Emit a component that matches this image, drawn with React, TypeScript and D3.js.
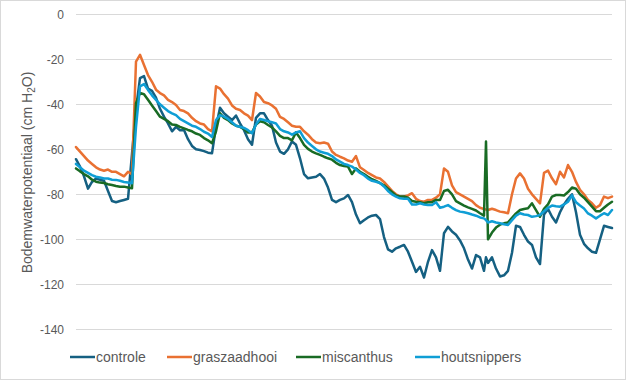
import React from 'react';
import * as d3 from 'd3';

// time axis (days); one extra sample at 102.5 captures the short miscanthus spike
const days: number[] = [...d3.range(0, 103), 102.5, ...d3.range(103, 135)];

const seriesNames = ['controle', 'graszaadhooi', 'miscanthus', 'houtsnippers'];
const seriesColors = ['#156082', '#E97132', '#196B24', '#0F9ED5'];
const yTicks = [0, -20, -40, -60, -80, -100, -120, -140];

const controle = [
  -64.4, -67.7, -72, -77.5, -74.5, -73, -73.5, -74, -78.5, -83,
  -83.5, -83, -82.5, -82, -62, -42, -28.4, -27.5, -33, -34,
  -37, -42, -45.5, -48.5, -52, -50, -51.5, -51.4, -55.5, -58.5,
  -60, -60.3, -60.8, -61.5, -61.8, -50, -41.5, -44, -45.5, -47,
  -45, -48.5, -51.5, -55.5, -58, -46, -44, -44, -47, -49.5,
  -57, -61, -62, -60, -56.5, -58, -64, -71, -72.9, -72.5,
  -72.2, -71, -73, -77, -82.5, -83.5, -82.5, -81.8, -80.3, -83.5,
  -89, -92.9, -91.5, -90.3, -89.5, -89.2, -91, -99, -104.5, -105.5,
  -104, -103.3, -102.5, -105.5, -110, -114.5, -112.2, -117, -110, -104.8,
  -108, -114, -97.3, -94.5, -96.5, -98, -100.5, -104, -109, -113,
  -107, -108, -114, -108, -110.5, -108, -113, -116.5, -116, -114,
  -106, -94, -94.5, -98, -101, -102.5, -108, -111, -89, -86.5,
  -90, -92.5, -88, -84.5, -82, -80, -88, -98, -102, -104,
  -105.5, -106, -100, -94, -94.5, -95,
];

const graszaadhooi = [
  -59, -61, -63, -65, -66.5, -68, -69, -69.5, -69, -70,
  -70, -71, -72, -70, -71, -21, -18, -22.5, -27, -30,
  -33.5, -35, -36, -38, -39, -40.3, -42.5, -43, -44, -46,
  -47.5, -48.5, -49, -51, -52, -32, -33, -35.5, -37.5, -40.5,
  -42, -42.5, -44, -45, -47, -35, -36.5, -39, -39.5, -40.5,
  -42, -45.6, -46.5, -48, -49.5, -50, -50, -52, -53.5, -55.5,
  -57, -57.3, -57, -57.5, -61, -62.5, -63.3, -64, -65, -65.5,
  -63, -68, -69.2, -70.5, -71.5, -72.5, -73, -74.5, -76.5, -78.5,
  -80, -81, -81, -80.5, -79.5, -82, -83, -83.3, -82.5, -82.5,
  -81.5, -80, -68.5, -70, -76, -79, -80, -81, -82, -83,
  -84.8, -86, -86.5, -86.8, -87, -86.4, -87, -87.7, -88, -88.4,
  -80, -73, -70.7, -73, -77.5, -80, -82, -84, -70.5, -69.5,
  -72.9, -75.5, -70, -72.5, -67, -70, -74.5, -78, -80, -82.5,
  -84, -86, -84.8, -81, -81.7, -81,
];

const miscanthus = [
  -68.5, -69.8, -71, -72, -73.5, -74.4, -74.8, -75, -75.5, -75.9,
  -76.3, -76.6, -76.6, -77, -77.3, -39.5, -35, -35.5, -38, -40.5,
  -43, -45.5, -46.5, -47.5, -49, -49.2, -50, -50.7, -51.4, -52,
  -53, -53.6, -55, -56, -57.3, -52, -44, -46, -47, -48.5,
  -49.5, -50, -51, -52.5, -52.5, -49, -47.5, -48, -49.2, -50.3,
  -52, -54, -55, -55, -56, -52.5, -55, -58, -59.8, -61,
  -61.8, -62.5, -63.3, -64, -64.6, -66, -67, -67.4, -67.7, -71,
  -68.5, -70, -71, -72.2, -73.3, -74, -75, -76, -77.5, -79,
  -80.5, -81, -81, -81.5, -83, -83.3, -83.5, -84, -83.5, -83.5,
  -82.5, -82.5, -78.5, -78, -80, -83, -84, -85, -85.8, -86.5,
  -87.2, -88.4, -89.5, -56.5, -100, -97, -94.8, -93.5, -92.9, -92.5,
  -90.5, -88.5, -87, -86.5, -86.2, -84, -87, -90, -86.5, -84.5,
  -81, -80.3, -80.3, -80.5, -79, -77, -77.5, -80, -81.5, -83.5,
  -85.5, -87.5, -87.5, -86, -84.5, -83.3,
];

const houtsnippers = [
  -66.5, -68, -69.5, -70.5, -71.5, -72.2, -72.5, -73, -73, -73.5,
  -73.6, -74, -74.5, -74.8, -75.1, -50, -32, -31, -33.6, -36,
  -38, -40, -41.5, -43, -44, -44.8, -46.5, -47.5, -48.5, -49.5,
  -50, -51, -52.2, -53, -54.5, -47, -44.8, -45.5, -46.5, -48,
  -49.5, -50, -50.5, -51.5, -52.9, -49, -46.5, -47, -47.5, -48,
  -48.5, -51, -52, -52.5, -53.5, -52.5, -52, -55, -57, -58.5,
  -60, -61, -61.5, -62, -63, -64.5, -65.5, -66.5, -67, -67.7,
  -69, -70.5, -71.5, -73, -74, -74.4, -75, -76.5, -78.5, -80,
  -81, -81.8, -82, -82, -84.5, -84.5, -84, -84.5, -84.8, -84.8,
  -83.5, -86, -85.5, -84.8, -86, -87, -87.7, -88, -88.4, -89,
  -89.5, -90.3, -90.7, -91.5, -92.5, -92, -92.5, -92.9, -93.3, -93.6,
  -91.5, -89.5, -88.4, -89, -89.2, -90, -89.7, -89.2, -87.5, -86,
  -85, -85.3, -85.5, -84.5, -83.3, -80.5, -83.5, -85, -86.3, -88.5,
  -89.5, -90.7, -89.5, -88.4, -89.2, -87,
];

const seriesValues = [controle, graszaadhooi, miscanthus, houtsnippers];

const W = 626;
const H = 380;
const plot = { left: 76, right: 612, top: 14.3, bottom: 329.3 };
const legendX = [70, 167, 296, 415];
const legendY = 357;
const textColor = '#595959';
const font = '"Liberation Sans", Arial, sans-serif';

export default function App() {
  const x = d3.scaleLinear().domain([0, 134]).range([plot.left, plot.right]);
  const y = d3.scaleLinear().domain([-140, 0]).range([plot.bottom, plot.top]);
  const line = d3
    .line<number>()
    .x((_, i) => x(days[i]))
    .y((v) => y(v));

  return (
    <svg
      width={W}
      height={H}
      style={{ position: 'fixed', left: 0, top: 0, background: '#fff' }}
      fontFamily={font}
    >
      <rect x={0.5} y={0.5} width={W - 1} height={H - 1} fill="#fff" stroke="#D9D9D9" />
      {yTicks.map((t) => {
        const yy = Math.round(y(t)) + 0.5;
        return (
          <g key={t}>
            <line x1={plot.left} x2={plot.right} y1={yy} y2={yy} stroke="#D9D9D9" strokeWidth={1} />
            <text x={64} y={yy} dy="0.35em" textAnchor="end" fontSize={12} fill={textColor}>
              {t}
            </text>
          </g>
        );
      })}
      <text
        transform={`translate(27,172.5) rotate(-90)`}
        textAnchor="middle"
        dy="0.35em"
        fontSize={14}
        fill={textColor}
      >
        Bodemwaterpotentiaal (cm H
        <tspan fontSize={10} dy={3}>2</tspan>
        <tspan dy={-3}>O)</tspan>
      </text>
      {seriesValues.map((vals, si) => (
        <path
          key={seriesNames[si]}
          d={line(vals) || ''}
          fill="none"
          stroke={seriesColors[si]}
          strokeWidth={2.5}
          strokeLinejoin="round"
          strokeLinecap="round"
        />
      ))}
      {seriesNames.map((name, si) => (
        <g key={name} transform={`translate(${legendX[si]},${legendY})`}>
          <line x1={0} x2={25} y1={0} y2={0} stroke={seriesColors[si]} strokeWidth={2.5} />
          <text x={26} y={0} dy="0.35em" fontSize={14} fill={textColor}>
            {name}
          </text>
        </g>
      ))}
    </svg>
  );
}
